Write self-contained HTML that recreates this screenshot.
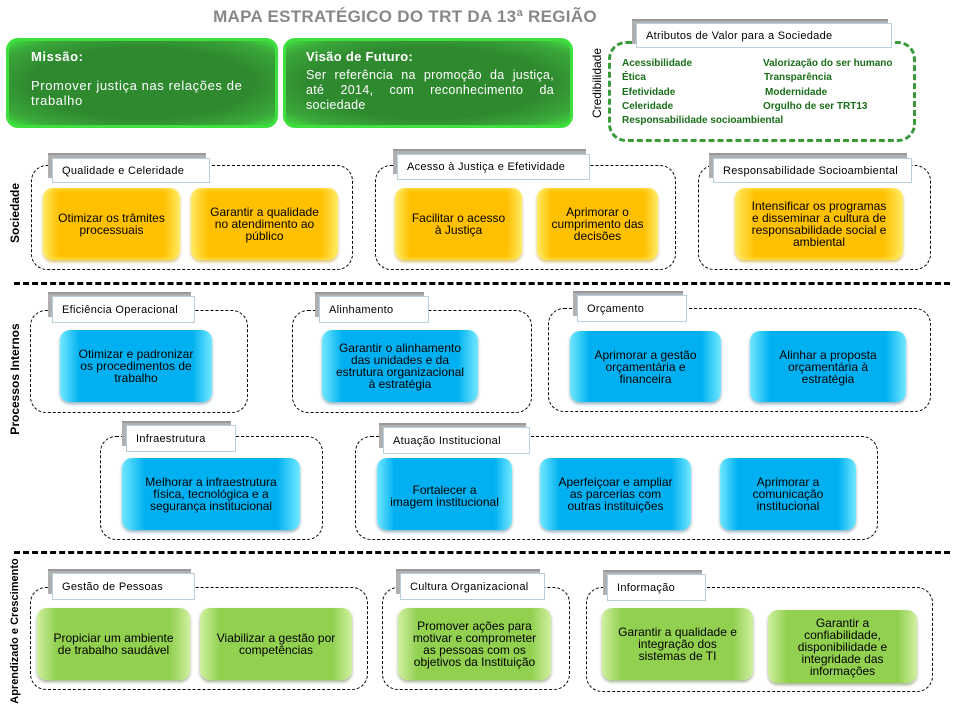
<!DOCTYPE html>
<html><head><meta charset="utf-8">
<style>
*{margin:0;padding:0;box-sizing:border-box}
body{width:955px;height:722px;background:#fff;position:relative;overflow:hidden;font-family:"Liberation Sans",Arial,sans-serif}
.a{position:absolute}
.grp{position:absolute;border:1px dashed #000;border-radius:16px}
.lab{position:absolute;background:#fff;border:1px solid #b8d0dc;font-size:11px;color:#000;padding-left:9px;display:flex;align-items:center;letter-spacing:.3px}
.sh{position:absolute;background:#b0b0b0;border-top:2px solid #999}
.bx{position:absolute;border-radius:10px;display:flex;align-items:center;justify-content:center;text-align:center;font-size:12px;line-height:12px;color:#000;padding:0 2px;white-space:nowrap}
.y{background:linear-gradient(90deg,#ffe860 0,#ffc000 12%,#ffc000 88%,#ffe860 100%);box-shadow:inset 0 0 6px #ffef70,0 2px 3px #d8c070}
.b{background:linear-gradient(90deg,#70e8ff 0,#00b0f0 13%,#00b0f0 87%,#70e8ff 100%);box-shadow:0 2px 3px #90b0c0}
.g{background:linear-gradient(90deg,#d0f0a0 0,#92d050 13%,#92d050 87%,#d0f0a0 100%);box-shadow:0 2px 3px #a0b090}
.dk{position:absolute;border-radius:12px;background:radial-gradient(ellipse at center,#2f8a2f 60%,#3aa83a 85%,#40e040 100%);border:3px solid #3ee03e;color:#fff;font-size:13px;padding:8px 0 0 22px;letter-spacing:.6px}
.dk b{display:block;font-size:13px;margin-bottom:14px}
.sep{position:absolute;left:14px;width:936px;border-top:3px dashed #000}
.vt{position:absolute;transform:rotate(-90deg);transform-origin:center;white-space:nowrap;font-weight:bold;font-size:12px;text-align:center}
.at{position:absolute;font-size:10px;font-weight:bold;color:#1a6e1a}
.jl{display:flex;justify-content:space-between}
</style></head><body>
<div class="a" style="left:0;width:810px;top:7px;text-align:center;font-size:17px;font-weight:bold;color:#888;letter-spacing:.3px">MAPA ESTRATÉGICO DO TRT DA 13ª REGIÃO</div>

<div class="dk" style="left:6px;top:38px;width:272px;height:90px"><b>Missão:</b>Promover justiça nas relações de<br>trabalho</div>
<div class="dk" style="left:283px;top:38px;width:290px;height:90px;padding-left:20px;letter-spacing:.3px;font-size:12.5px"><b style="margin-bottom:4px">Visão de Futuro:</b><div style="line-height:15px;white-space:nowrap;width:248px"><div class="jl"><span>Ser</span><span>referência</span><span>na</span><span>promoção</span><span>da</span><span>justiça,</span></div><div class="jl"><span>até</span><span>2014,</span><span>com</span><span>reconhecimento</span><span>da</span></div><div>sociedade</div></div></div>

<div class="a" style="left:608px;top:41px;width:308px;height:101px;border:3px dashed #3a9a3a;border-radius:18px"></div>
<div class="sh" style="left:632px;top:19px;width:256px;height:25px"></div>
<div class="lab" style="left:636px;top:23px;width:256px;height:25px">Atributos de Valor para a Sociedade</div>
<div class="vt" style="left:547px;top:76px;width:100px;font-weight:normal;font-size:12px">Credibilidade</div>
<div class="at" style="left:622px;top:58px">Acessibilidade</div>
<div class="at" style="left:622px;top:72px">Ética</div>
<div class="at" style="left:622px;top:87px">Efetividade</div>
<div class="at" style="left:622px;top:101px">Celeridade</div>
<div class="at" style="left:622px;top:115px">Responsabilidade socioambiental</div>
<div class="at" style="left:763px;top:58px">Valorização do ser humano</div>
<div class="at" style="left:764px;top:72px">Transparência</div>
<div class="at" style="left:765px;top:87px">Modernidade</div>
<div class="at" style="left:763px;top:101px">Orgulho de ser TRT13</div>

<!-- Sociedade -->
<div class="vt" style="left:-35px;top:206px;width:100px">Sociedade</div>
<div class="grp" style="left:31px;top:165px;width:322px;height:105px"></div>
<div class="sh" style="left:48px;top:153px;width:158px;height:25px"></div>
<div class="lab" style="left:52px;top:158px;width:158px;height:25px">Qualidade e Celeridade</div>
<div class="bx y" style="left:43px;top:188px;width:137px;height:72px">Otimizar os trâmites<br>processuais</div>
<div class="bx y" style="left:191px;top:188px;width:147px;height:72px">Garantir a qualidade<br>no atendimento ao<br>público</div>

<div class="grp" style="left:375px;top:165px;width:301px;height:105px"></div>
<div class="sh" style="left:393px;top:149px;width:193px;height:25px"></div>
<div class="lab" style="left:397px;top:154px;width:193px;height:26px">Acesso à Justiça e Efetividade</div>
<div class="bx y" style="left:395px;top:188px;width:127px;height:72px">Facilitar o acesso<br>à Justiça</div>
<div class="bx y" style="left:537px;top:188px;width:121px;height:72px">Aprimorar o<br>cumprimento das<br>decisões</div>

<div class="grp" style="left:698px;top:165px;width:233px;height:105px"></div>
<div class="sh" style="left:709px;top:153px;width:198px;height:25px"></div>
<div class="lab" style="left:713px;top:158px;width:199px;height:25px">Responsabilidade Socioambiental</div>
<div class="bx y" style="left:735px;top:188px;width:168px;height:72px">Intensificar os programas<br>e disseminar a cultura de<br>responsabilidade social e<br>ambiental</div>

<div class="sep" style="top:282px"></div>

<!-- Processos -->
<div class="vt" style="left:-50px;top:372px;width:130px">Processos Internos</div>
<div class="grp" style="left:30px;top:310px;width:218px;height:103px"></div>
<div class="sh" style="left:48px;top:292px;width:143px;height:25px"></div>
<div class="lab" style="left:52px;top:296px;width:143px;height:27px">Eficiência Operacional</div>
<div class="bx b" style="left:60px;top:330px;width:152px;height:72px">Otimizar e padronizar<br>os procedimentos de<br>trabalho</div>

<div class="grp" style="left:292px;top:310px;width:240px;height:103px"></div>
<div class="sh" style="left:315px;top:292px;width:109px;height:25px"></div>
<div class="lab" style="left:319px;top:296px;width:110px;height:27px">Alinhamento</div>
<div class="bx b" style="left:322px;top:330px;width:156px;height:72px">Garantir o alinhamento<br>das unidades e da<br>estrutura organizacional<br>à estratégia</div>

<div class="grp" style="left:548px;top:308px;width:383px;height:104px"></div>
<div class="sh" style="left:573px;top:291px;width:110px;height:25px"></div>
<div class="lab" style="left:577px;top:295px;width:110px;height:27px">Orçamento</div>
<div class="bx b" style="left:570px;top:331px;width:151px;height:71px">Aprimorar a gestão<br>orçamentária e<br>financeira</div>
<div class="bx b" style="left:750px;top:331px;width:156px;height:71px">Alinhar a proposta<br>orçamentária à<br>estratégia</div>

<div class="grp" style="left:100px;top:436px;width:223px;height:104px"></div>
<div class="sh" style="left:122px;top:421px;width:109px;height:25px"></div>
<div class="lab" style="left:126px;top:425px;width:110px;height:27px">Infraestrutura</div>
<div class="bx b" style="left:122px;top:458px;width:178px;height:72px">Melhorar a infraestrutura<br>física, tecnológica e a<br>segurança institucional</div>

<div class="grp" style="left:355px;top:436px;width:523px;height:104px"></div>
<div class="sh" style="left:379px;top:423px;width:147px;height:25px"></div>
<div class="lab" style="left:383px;top:427px;width:147px;height:27px">Atuação Institucional</div>
<div class="bx b" style="left:377px;top:458px;width:135px;height:72px;padding-top:4px">Fortalecer a<br>imagem institucional</div>
<div class="bx b" style="left:540px;top:458px;width:151px;height:72px">Aperfeiçoar e ampliar<br>as parcerias com<br>outras instituições</div>
<div class="bx b" style="left:720px;top:458px;width:136px;height:72px">Aprimorar a<br>comunicação<br>institucional</div>

<div class="sep" style="top:551px"></div>

<!-- Aprendizado -->
<div class="vt" style="left:-75px;top:625px;width:180px;font-size:11px">Aprendizado e Crescimento</div>
<div class="grp" style="left:30px;top:587px;width:338px;height:103px"></div>
<div class="sh" style="left:48px;top:569px;width:143px;height:25px"></div>
<div class="lab" style="left:52px;top:573px;width:143px;height:27px">Gestão de Pessoas</div>
<div class="bx g" style="left:37px;top:608px;width:153px;height:72px">Propiciar um ambiente<br>de trabalho saudável</div>
<div class="bx g" style="left:200px;top:608px;width:152px;height:72px">Viabilizar a gestão por<br>competências</div>

<div class="grp" style="left:382px;top:587px;width:188px;height:103px"></div>
<div class="sh" style="left:396px;top:569px;width:144px;height:25px"></div>
<div class="lab" style="left:400px;top:573px;width:145px;height:27px">Cultura Organizacional</div>
<div class="bx g" style="left:398px;top:608px;width:153px;height:72px">Promover ações para<br>motivar e comprometer<br>as pessoas com os<br>objetivos da Instituição</div>

<div class="grp" style="left:586px;top:587px;width:347px;height:105px"></div>
<div class="sh" style="left:603px;top:570px;width:99px;height:25px"></div>
<div class="lab" style="left:607px;top:574px;width:99px;height:27px">Informação</div>
<div class="bx g" style="left:602px;top:608px;width:151px;height:72px">Garantir a qualidade e<br>integração dos<br>sistemas de TI</div>
<div class="bx g" style="left:768px;top:610px;width:149px;height:73px">Garantir a<br>confiabilidade,<br>disponibilidade e<br>integridade das<br>informações</div>
</body></html>
